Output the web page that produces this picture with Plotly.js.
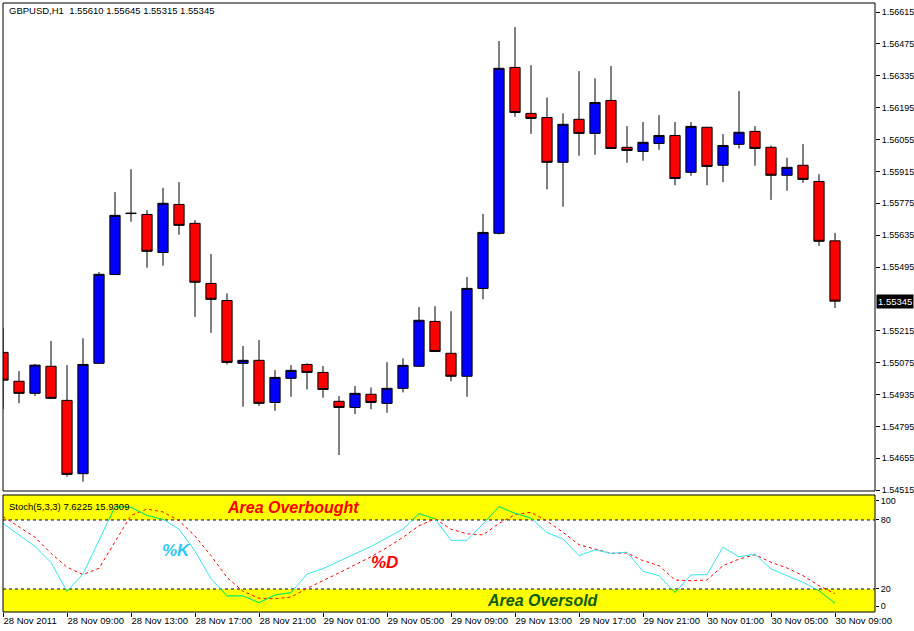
<!DOCTYPE html>
<html><head><meta charset="utf-8">
<script src="https://cdn.plot.ly/plotly-3.0.1.min.js"></script>
<style>html,body{margin:0;padding:0;background:#fff}#chart{width:914px;height:631px}</style>
</head><body><div id="chart"></div>
<script>
const timeLabels = ["28 Nov 2011","28 Nov 09:00","28 Nov 13:00","28 Nov 17:00","28 Nov 21:00","29 Nov 01:00","29 Nov 05:00","29 Nov 09:00","29 Nov 13:00","29 Nov 17:00","29 Nov 21:00","30 Nov 01:00","30 Nov 05:00","30 Nov 09:00"];
const labelIndex = [0,4,8,12,16,20,24,28,32,36,40,44,48,52];

const openP  = [1.55120,1.54993,1.54940,1.55059,1.54909,1.54587,1.55072,1.55462,1.55732,1.55726,1.55559,1.55770,1.55687,1.55423,1.55348,1.55072,1.55085,1.54900,1.55006,1.55067,1.55032,1.54905,1.54878,1.54936,1.54896,1.54962,1.55059,1.55256,1.55116,1.55015,1.55401,1.55643,1.56372,1.56170,1.56152,1.55955,1.56144,1.56082,1.56227,1.56021,1.56003,1.56038,1.56073,1.55911,1.56109,1.55942,1.56034,1.56091,1.56021,1.55898,1.55942,1.55871,1.55610];
const highP  = [1.55227,1.55038,1.55069,1.55170,1.55064,1.55182,1.55473,1.55824,1.55925,1.55745,1.55843,1.55868,1.55701,1.55552,1.55379,1.55148,1.55174,1.55042,1.55064,1.55072,1.55060,1.54928,1.54972,1.54966,1.55077,1.55094,1.55319,1.55323,1.55301,1.55451,1.55728,1.56488,1.56549,1.56382,1.56240,1.56170,1.56356,1.56324,1.56378,1.56114,1.56132,1.56163,1.56132,1.56132,1.56111,1.56079,1.56268,1.56114,1.56029,1.55975,1.56035,1.55903,1.55645];
const lowP   = [1.54871,1.54896,1.54929,1.54915,1.54574,1.54552,1.55070,1.55460,1.55694,1.55492,1.55501,1.55637,1.55276,1.55206,1.55067,1.54881,1.54885,1.54863,1.54925,1.54957,1.54921,1.54669,1.54849,1.54870,1.54855,1.54944,1.55057,1.55122,1.54993,1.54925,1.55353,1.55638,1.56155,1.56080,1.55836,1.55760,1.55984,1.55988,1.56014,1.55953,1.55962,1.56010,1.55854,1.55896,1.55854,1.55868,1.56015,1.55940,1.55790,1.55830,1.55865,1.55588,1.55315];
const closeP = [1.54998,1.54940,1.55064,1.54918,1.54584,1.55067,1.55463,1.55722,1.55730,1.55564,1.55775,1.55678,1.55428,1.55353,1.55076,1.55085,1.54896,1.55010,1.55041,1.55032,1.54957,1.54878,1.54940,1.54900,1.54962,1.55063,1.55261,1.55124,1.55015,1.55401,1.55647,1.56368,1.56174,1.56148,1.55955,1.56122,1.56082,1.56218,1.56016,1.56007,1.56043,1.56073,1.55884,1.56113,1.55937,1.56029,1.56087,1.56016,1.55898,1.55933,1.55880,1.55608,1.55345];

const stochK = [77,67,57,43,18,33,62,91.6,91,84,80.5,72,53,29,14,14,8.1,14.8,16.8,33,37.7,44,50.7,57,64.5,72,85.5,81,62.3,62.3,76.5,91.6,85.8,81.7,69,63.5,49,54,51,52,35.4,31.6,17,32.2,32.5,56.3,48,50.4,37.4,31.6,25.8,18.5,7.6225];
const stochD = [83,74,65,51,39,32.5,38,61,84,89.5,87,79.4,66,49,30,18,12,11.5,13,20.5,27,34,41,48,56,65,75,81,72,68,67,77,84.6,86.7,79,69.3,58.5,54.8,51,51.3,44.6,40.3,27.8,27.2,27.8,40.3,46,49.8,43.2,38.3,31.6,22.9,15.9309];

const priceTicks = [1.56615,1.56475,1.56335,1.56195,1.56055,1.55915,1.55775,1.55635,1.55495,1.55215,1.55075,1.54935,1.54795,1.54655,1.54515];
const stochTickText = ['0','20','80','100'];
const levelHigh = 80, levelLow = 20;

const idx = openP.map((_, i) => i);

function zoneSegments(vals, hi, lo) {
  const xs = [], ys = [];
  for (let i = 0; i < vals.length - 1; i++) {
    const a = vals[i], b = vals[i + 1];
    for (const [lvl, above] of [[hi, true], [lo, false]]) {
      const inA = above ? a >= lvl : a <= lvl;
      const inB = above ? b >= lvl : b <= lvl;
      if (!inA && !inB) continue;
      let x0 = i, y0 = a, x1 = i + 1, y1 = b;
      if (!inA) { const t = (lvl - a) / (b - a); x0 = i + t; y0 = lvl; }
      if (!inB) { const t = (lvl - a) / (b - a); x1 = i + t; y1 = lvl; }
      xs.push(x0, x1, null); ys.push(y0, y1, null);
    }
  }
  return {xs, ys};
}
const zone = zoneSegments(stochK, levelHigh, levelLow);

const FONT = 'Liberation Sans, Arial, sans-serif';

const traces = [
  {type:'candlestick', x: idx, open: openP, high: highP, low: lowP, close: closeP,
   xaxis:'x', yaxis:'y', whiskerwidth:0,
   increasing:{fillcolor:'#0000ff', line:{color:'#000', width:1}},
   decreasing:{fillcolor:'#ff0000', line:{color:'#000', width:1}},
   hoverinfo:'skip', showlegend:false},
  {type:'scatter', mode:'lines', x: idx, y: stochD, xaxis:'x', yaxis:'y2',
   line:{color:'#ff0000', width:1, dash:'3px,3px'}, hoverinfo:'skip'},
  {type:'scatter', mode:'lines', x: idx, y: stochK, xaxis:'x', yaxis:'y2',
   line:{color:'#33e6f0', width:1}, hoverinfo:'skip'},
  {type:'scatter', mode:'lines', x: zone.xs, y: zone.ys, xaxis:'x', yaxis:'y2',
   line:{color:'#22ee22', width:1}, hoverinfo:'skip', connectgaps:false}
];

const layout = {
  width:914, height:631,
  margin:{l:3, r:39, t:3, b:19, pad:0},
  paper_bgcolor:'#ffffff', plot_bgcolor:'#ffffff',
  showlegend:false,
  boxgap:0.2, boxgroupgap:0.2,
  xaxis:{range:[0,54.5], anchor:'y2', tickvals: labelIndex, ticktext: timeLabels,
    tickangle:0, ticks:'outside', ticklen:4, tickcolor:'#000', ticklabelposition:'outside right',
    showgrid:false, zeroline:false, showline:false, rangeslider:{visible:false},
    tickfont:{family:FONT, size:9.5, color:'#000'}, fixedrange:true},
  yaxis:{domain:[0.1987,1], range:[1.54511,1.56655], side:'right', tickvals: priceTicks,
    tickformat:'.5f', ticks:'outside', ticklen:4, tickcolor:'#000',
    showgrid:false, zeroline:false, showline:false,
    tickfont:{family:FONT, size:9, color:'#000'}, fixedrange:true},
  yaxis2:{domain:[0,0.1921], range:[0,101.7], side:'right', anchor:'x',
    tickvals:[5, levelLow, levelHigh, 96.5], ticktext: stochTickText,
    ticks:'outside', ticklen:3, tickcolor:'#000',
    showgrid:false, zeroline:false, showline:false,
    tickfont:{family:FONT, size:9, color:'#000'}, fixedrange:true},
  shapes:[
    {type:'rect', xref:'paper', x0:0, x1:1, yref:'y2', y0:levelHigh, y1:101.7, fillcolor:'#ffff00', line:{width:0}, layer:'below'},
    {type:'rect', xref:'paper', x0:0, x1:1, yref:'y2', y0:0, y1:levelLow, fillcolor:'#ffff00', line:{width:0}, layer:'below'},
    {type:'line', xref:'paper', x0:0, x1:1, yref:'y2', y0:levelHigh, y1:levelHigh, line:{color:'#000', width:1, dash:'3px,3px'}, layer:'below'},
    {type:'line', xref:'paper', x0:0, x1:1, yref:'y2', y0:levelLow, y1:levelLow, line:{color:'#000', width:1, dash:'3px,3px'}, layer:'below'},
    {type:'rect', xref:'paper', x0:0, x1:1, yref:'y domain', y0:0, y1:1, line:{color:'#000', width:1}, fillcolor:'rgba(0,0,0,0)'},
    {type:'rect', xref:'paper', x0:0, x1:1, yref:'y2 domain', y0:0, y1:1, line:{color:'#000', width:1}, fillcolor:'rgba(0,0,0,0)'}
  ],
  annotations:[
    {xref:'paper', yref:'paper', x:0.0046, y:0.9869, xanchor:'left', yanchor:'middle', showarrow:false,
     text:'GBPUSD,H1  1.55610 1.55645 1.55315 1.55345', font:{family:FONT, size:9.5, color:'#000'}},
    {xref:'paper', yref:'paper', x:0.0046, y:0.174, xanchor:'left', yanchor:'middle', showarrow:false,
     text:'Stoch(5,3,3) 7.6225 15.9309', font:{family:FONT, size:9.5, color:'#000'}},
    {xref:'paper', yref:'paper', x:0.3326, y:0.1708, xanchor:'center', yanchor:'middle', showarrow:false,
     text:'<b><i>Area Overbought</i></b>', font:{family:FONT, size:16, color:'#ff0000'}},
    {xref:'paper', yref:'paper', x:0.6187, y:0.0181, xanchor:'center', yanchor:'middle', showarrow:false,
     text:'<b><i>Area Oversold</i></b>', font:{family:FONT, size:16, color:'#0d5c0d'}},
    {xref:'paper', yref:'paper', x:0.1995, y:0.1018, xanchor:'center', yanchor:'middle', showarrow:false,
     text:'<b><i>%K</i></b>', font:{family:FONT, size:17, color:'#2ec8f5'}},
    {xref:'paper', yref:'paper', x:0.438, y:0.0821, xanchor:'center', yanchor:'middle', showarrow:false,
     text:'<b><i>%D</i></b>', font:{family:FONT, size:17, color:'#ff0000'}},
    {xref:'paper', yref:'y', x:1, y:closeP[closeP.length-1], xanchor:'left', yanchor:'middle', xshift:1, showarrow:false,
     text:closeP[closeP.length-1].toFixed(5), bgcolor:'#000', borderpad:1, font:{family:FONT, size:9.5, color:'#fff'}}
  ]
};

Plotly.newPlot('chart', traces, layout, {staticPlot:true, displayModeBar:false});
</script></body></html>
